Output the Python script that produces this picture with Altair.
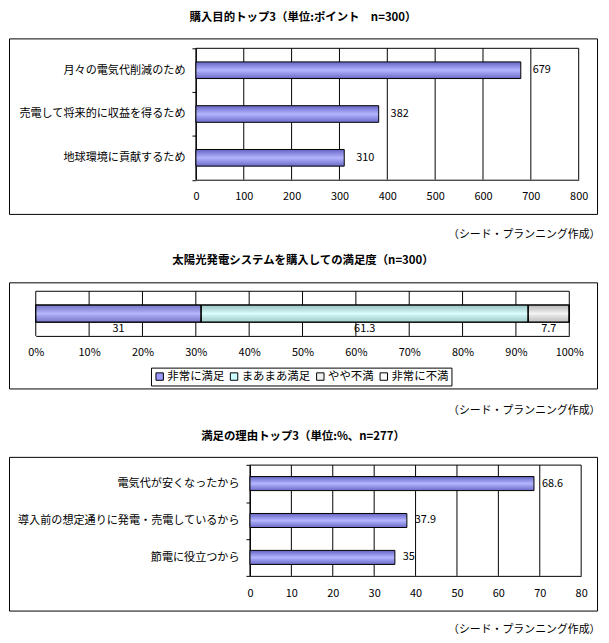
import altair as alt
import pandas as pd

FONT = "Noto Sans CJK JP"
W = 593

# ---------------- data ----------------
p1_title = "購入目的トップ3（単位:ポイント　n=300）"
p1_cats = ["月々の電気代削減のため", "売電して将来的に収益を得るため", "地球環境に貢献するため"]
p1_vals = [679, 382, 310]
p1_ticks = [0, 100, 200, 300, 400, 500, 600, 700, 800]

p2_title = "太陽光発電システムを購入しての満足度（n=300）"
p2_row = "満足度"
p2_cats = ["非常に満足", "まあまあ満足", "やや不満", "非常に不満"]
p2_vals = [31, 61.3, 7.7, 0]
p2_colors = ["#9999ff", "#ccffff", "#f0f0f0", "#ffffff"]
p2_ticks = [0, 10, 20, 30, 40, 50, 60, 70, 80, 90, 100]

p3_title = "満足の理由トップ3（単位:%、n=277）"
p3_cats = ["電気代が安くなったから", "導入前の想定通りに発電・売電しているから", "節電に役立つから"]
p3_vals = [68.6, 37.9, 35]
p3_ticks = [0, 10, 20, 30, 40, 50, 60, 70, 80]

source_text = "（シード・プランニング作成）"

purple_grad = alt.LinearGradient(
    gradient="linear", x1=0, x2=0, y1=0, y2=1,
    stops=[alt.GradientStop(offset=0, color="#6464c4"),
           alt.GradientStop(offset=0.5, color="#b4b4ff"),
           alt.GradientStop(offset=1, color="#6a6ac8")],
)
sheen_grad = alt.LinearGradient(
    gradient="linear", x1=0, x2=0, y1=0, y2=1,
    stops=[alt.GradientStop(offset=0, color="rgba(0,0,0,0.22)"),
           alt.GradientStop(offset=0.5, color="rgba(255,255,255,0.30)"),
           alt.GradientStop(offset=1, color="rgba(0,0,0,0.18)")],
)


def text_layer(txt, x, y, align, bold=False, size=11.0):
    return alt.Chart(pd.DataFrame({"t": [txt]})).mark_text(
        font=FONT, fontSize=size, fontWeight="bold" if bold else "normal",
        align=align, baseline="middle", color="black",
    ).encode(x=alt.value(x), y=alt.value(y), text="t:N")


def frame_layers(ticks, xs, yr, axis):
    tdf = pd.DataFrame({"t": ticks})
    grid = alt.Chart(tdf).mark_rule(color="black", strokeWidth=1).encode(
        x=alt.X("t:Q", scale=xs, axis=axis),
        y=alt.value(yr[0]), y2=alt.value(yr[1]),
    )
    top = alt.Chart(pd.DataFrame({"a": [ticks[0]], "b": [ticks[-1]]})).mark_rule(
        color="black", strokeWidth=1
    ).encode(x=alt.X("a:Q", title=None), x2="b:Q", y=alt.value(yr[0]))
    return grid, top


def hbar_panel(title, cats, vals, ticks, xr, yr, H, dx, lab_pad, title_y, src_y):
    df = pd.DataFrame({"cat": cats, "val": vals})
    xs = alt.Scale(domain=[ticks[0], ticks[-1]], range=xr, nice=False, zero=True)
    ys = alt.Scale(domain=cats, range=yr, paddingInner=0, paddingOuter=0)
    xaxis = alt.Axis(values=ticks, title=None, orient="bottom", offset=yr[1] - H,
                     ticks=False, grid=False, domain=True, domainColor="black",
                     labelColor="black", labelFont=FONT, labelFontSize=11,
                     labelPadding=lab_pad, labelFlush=False, format="d")
    grid, top = frame_layers(ticks, xs, yr, xaxis)
    yaxis = alt.Axis(title=None, orient="left", offset=-xr[0], ticks=True, tickSize=4,
                     tickBand="extent", tickColor="black", domain=True, domainColor="black",
                     labelColor="black", labelFont=FONT, labelFontSize=11.2,
                     labelPadding=7, labelLimit=400)
    bars = alt.Chart(df).mark_bar(
        height=alt.RelativeBandSize(band=0.38), color=purple_grad,
        stroke="black", strokeWidth=1,
    ).encode(x=alt.X("val:Q", title=None),
             y=alt.Y("cat:N", scale=ys, axis=yaxis, sort=None))
    labels = alt.Chart(df).mark_text(
        font=FONT, fontSize=11, align="left", baseline="middle", dx=dx, color="black"
    ).encode(x=alt.X("val:Q", title=None), y=alt.Y("cat:N", sort=None),
             text=alt.Text("val:Q", format="~g"))
    return alt.layer(
        grid, top, bars, labels,
        text_layer(title, W / 2, title_y, "center", bold=True, size=11.5),
        text_layer(source_text, 596.5, src_y, "right"),
    ).properties(width=W, height=H)


p1 = hbar_panel(p1_title, p1_cats, p1_vals, p1_ticks, [188.5, 574.5], [10, 142.5],
                177, 12, 10.5, -21, 198)
p3 = hbar_panel(p3_title, p3_cats, p3_vals, p3_ticks, [243, 577], [8.3, 120],
                155, 8, 11.5, -20, 175)

# ---------------- panel 2: 100% stacked bar ----------------
H2 = 107
xr2 = [27, 565]
yr2 = [9.0, 54.0]
df2 = pd.DataFrame({"cat": p2_cats, "val": p2_vals,
                    "ord": list(range(len(p2_cats))), "row": [p2_row] * len(p2_cats)})
xs2 = alt.Scale(domain=[0, 100], range=xr2, nice=False, zero=True)
ys2 = alt.Scale(domain=[p2_row], range=yr2, paddingInner=0, paddingOuter=0)
xaxis2 = alt.Axis(values=p2_ticks, title=None, orient="bottom", offset=yr2[1] - H2,
                  ticks=False, grid=False, domain=True, domainColor="black",
                  labelColor="black", labelFont=FONT, labelFontSize=11,
                  labelPadding=10.5, labelFlush=False, labelExpr="datum.label + '%'")
grid2, top2 = frame_layers(p2_ticks, xs2, yr2, xaxis2)

bars2 = alt.Chart(df2).mark_bar(
    height=alt.RelativeBandSize(band=0.385), stroke="black", strokeWidth=1
).encode(
    x=alt.X("val:Q", stack="zero", title=None),
    y=alt.Y("row:N", scale=ys2, axis=None),
    color=alt.Color("cat:N", scale=alt.Scale(domain=p2_cats, range=p2_colors),
                    legend=alt.Legend(
                        orient="none", legendX=143.2, legendY=86,
                        direction="horizontal", columns=4, title=None,
                        symbolType="square", symbolSize=56,
                        symbolStrokeColor="black", symbolStrokeWidth=1,
                        labelFont=FONT, labelFontSize=11.5, labelColor="black",
                        labelOffset=2, columnPadding=4, padding=3,
                        strokeColor="black", fillColor="white")),
    order=alt.Order("ord:Q"),
)
sheen2 = alt.Chart(df2).mark_bar(
    height=alt.RelativeBandSize(band=0.385), color=sheen_grad,
    stroke="black", strokeWidth=1,
).encode(
    x=alt.X("val:Q", stack="zero", title=None),
    y=alt.Y("row:N"),
    detail="cat:N",
    order=alt.Order("ord:Q"),
)
labels2 = alt.Chart(df2).transform_window(
    cum="sum(val)", sort=[alt.SortField("ord")], frame=[None, 0]
).transform_calculate(
    mid="datum.cum - datum.val / 2"
).transform_filter("datum.val > 0").mark_text(
    font=FONT, fontSize=11, align="center", baseline="middle", dy=15.5, color="black"
).encode(x=alt.X("mid:Q", title=None), y=alt.Y("row:N"),
         text=alt.Text("val:Q", format="~g"))

p2 = alt.layer(
    grid2, top2, bars2, sheen2, labels2,
    text_layer(p2_title, W / 2, -22, "center", bold=True, size=11.5),
    text_layer(source_text, 596.5, 130, "right"),
).properties(width=W, height=H2)

chart = alt.vconcat(p1, p2, p3, spacing=69, bounds="flush").resolve_scale(
    x="independent", y="independent", color="independent"
).configure_view(stroke="black", strokeWidth=1).properties(
    padding=0, background="white"
)

chart.save("out.html", embed_options={"renderer": "svg", "actions": False})
